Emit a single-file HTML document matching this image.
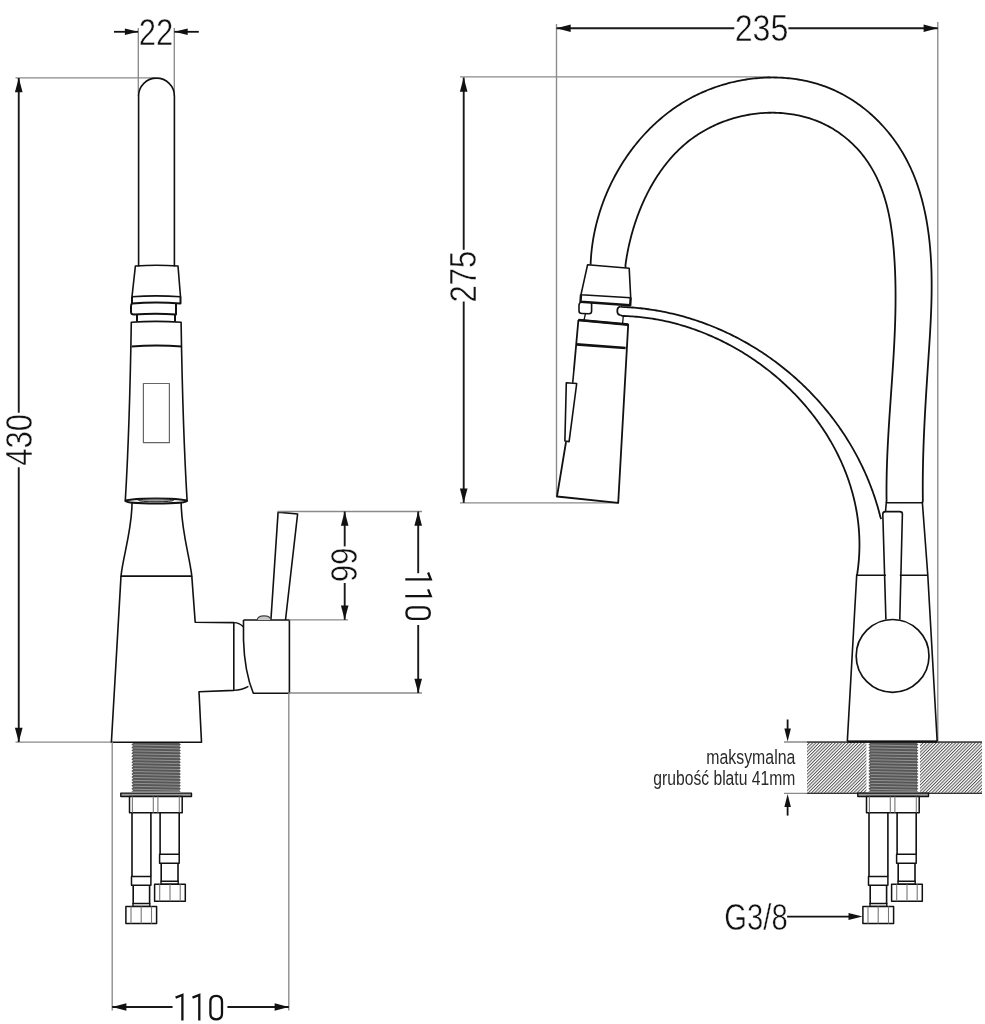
<!DOCTYPE html>
<html><head><meta charset="utf-8"><style>
html,body{margin:0;padding:0;background:#fff;}
svg{display:block;filter:grayscale(1);}
</style></head><body>
<svg width="985" height="1024" viewBox="0 0 985 1024" stroke-linecap="butt" stroke-linejoin="round">
<rect width="985" height="1024" fill="#fff"/>
<line x1="138.3" y1="28" x2="138.3" y2="96" stroke="#8a8a8a" stroke-width="1.35"/><line x1="174.3" y1="28" x2="174.3" y2="96" stroke="#8a8a8a" stroke-width="1.35"/><line x1="114" y1="31.8" x2="138" y2="31.8" stroke="#111" stroke-width="1.8"/><path d="M138.3,31.8 L124.9,35.1 L124.9,28.4 Z" fill="#111"/><line x1="174.3" y1="31.8" x2="198.8" y2="31.8" stroke="#111" stroke-width="1.8"/><path d="M174.3,31.8 L187.7,28.4 L187.7,35.1 Z" fill="#111"/><g transform="translate(156,31.9) rotate(0) scale(0.84,1)"><text x="0" y="13.04" font-family="Liberation Sans" font-size="37" text-anchor="middle" fill="#111" stroke="#fff" stroke-width="0.5">22</text></g><line x1="15.5" y1="77.9" x2="155" y2="77.9" stroke="#8a8a8a" stroke-width="1.35"/><line x1="15.5" y1="742.1" x2="112" y2="742.1" stroke="#8a8a8a" stroke-width="1.35"/><line x1="18.75" y1="78" x2="18.75" y2="412.8" stroke="#1a1a1a" stroke-width="1.9"/><line x1="18.75" y1="467.3" x2="18.75" y2="742" stroke="#1a1a1a" stroke-width="1.9"/><path d="M18.8,78.0 L22.6,92.2 L14.9,92.2 Z" fill="#111"/><path d="M18.8,742.0 L14.9,727.8 L22.6,727.8 Z" fill="#111"/><g transform="translate(18.5,439.8) rotate(-90) scale(0.84,1)"><text x="0" y="13.04" font-family="Liberation Sans" font-size="37" text-anchor="middle" fill="#111" stroke="#fff" stroke-width="0.5">430</text></g><path d="M138.6,266.5 V96 A17.9,17.9 0 0 1 174.4,96 V266.5" stroke="#111" stroke-width="1.6" fill="none" /><path d="M135.4,266 Q156.5,264.5 178,266 L180.5,296.7 Q156,295 132,296.7 Z" stroke="#111" stroke-width="1.6" fill="none" /><path d="M132,296.7 L132,303.4 Q156,301.5 180.5,303.4 L180.5,296.7" stroke="#111" stroke-width="2" fill="none" /><path d="M132,303.4 Q131,304 131,307 V312 Q131,314.5 134,314.4 Q156,313 176,314.4 L176,303.4" stroke="#111" stroke-width="2" fill="none" /><path d="M137,314.4 V321.7 M175,314.4 V321.7" stroke="#111" stroke-width="2" fill="none" /><path d="M131.3,322.3 Q156,320.5 181.1,322.3 Q182.8,430 187.1,500.5 Q156,497 125.3,500.5 Q129.6,430 131.3,322.3 Z" stroke="#111" stroke-width="1.6" fill="none" /><path d="M131.6,346.4 Q156,344.5 182,346.4" stroke="#111" stroke-width="2" fill="none" /><rect x="143.4" y="383.5" width="26" height="59.2" fill="none" stroke="#666" stroke-width="1.2"/><ellipse cx="156.2" cy="501" rx="30.9" ry="2.6" fill="#fff" stroke="#111" stroke-width="2"/><ellipse cx="156" cy="500.3" rx="17.5" ry="1.5" fill="#9a9a9a" stroke="#222" stroke-width="1"/><path d="M132,503 C132,530 123,556 121,576.1 L191.8,576.1 C189.5,556 181.2,530 181.2,503" stroke="#111" stroke-width="1.6" fill="none" /><path d="M121,576.1 L111.4,742.2 L201.5,742.2 L199,691.8 L233.8,690.4 V622.6 L195.2,622.2 L191.8,576.1" stroke="#111" stroke-width="1.6" fill="none" /><path d="M243.5,620 H289.4 V693.2 H253.3 Q244.5,672 243.5,640 V620" stroke="#111" stroke-width="1.6" fill="none" /><path d="M233.8,622.6 Q240,622.8 243.5,627" stroke="#111" stroke-width="1.4" fill="none" /><path d="M233.8,690.4 Q242,690 248.4,686.3" stroke="#111" stroke-width="1.4" fill="none" /><path d="M270.9,620 L278.1,512.1 L297.6,514 L285.5,620" stroke="#111" stroke-width="1.6" fill="none" /><path d="M257.2,620 Q257.5,615.8 264,615.8 Q270.6,615.8 270.9,620" stroke="#444" stroke-width="1.2" fill="#c8c8c8" /><line x1="278" y1="511.5" x2="422" y2="511.5" stroke="#8a8a8a" stroke-width="1.35"/><line x1="289" y1="619.8" x2="348" y2="619.8" stroke="#8a8a8a" stroke-width="1.35"/><line x1="289" y1="693" x2="422" y2="693" stroke="#8a8a8a" stroke-width="1.35"/><line x1="112.2" y1="742" x2="112.2" y2="1010.5" stroke="#8a8a8a" stroke-width="1.35"/><line x1="288.8" y1="693" x2="288.8" y2="1010.5" stroke="#8a8a8a" stroke-width="1.35"/><line x1="344.7" y1="511.5" x2="344.7" y2="546.4" stroke="#1a1a1a" stroke-width="1.9"/><line x1="344.7" y1="583" x2="344.7" y2="619.8" stroke="#1a1a1a" stroke-width="1.9"/><path d="M344.7,511.5 L348.5,525.7 L340.9,525.7 Z" fill="#111"/><path d="M344.7,619.8 L340.9,605.6 L348.5,605.6 Z" fill="#111"/><g transform="translate(344.4,564.7) rotate(90) scale(0.84,1)"><text x="0" y="13.04" font-family="Liberation Sans" font-size="37" text-anchor="middle" fill="#111" stroke="#fff" stroke-width="0.5">66</text></g><line x1="418.2" y1="511.5" x2="418.2" y2="573.2" stroke="#1a1a1a" stroke-width="1.9"/><line x1="418.2" y1="625" x2="418.2" y2="693" stroke="#1a1a1a" stroke-width="1.9"/><path d="M418.2,511.5 L422.0,525.7 L414.4,525.7 Z" fill="#111"/><path d="M418.2,693.0 L414.4,678.8 L422.0,678.8 Z" fill="#111"/><path transform="translate(418.1,596.7) rotate(90)" d="M-24.2,-10.0 L-17.4,-12.7 V12.8 M-7.3,-10.0 L-0.5,-12.7 V12.8 M10.6,-5.8 C10.6,-10.3 13.1,-11.7 16.4,-11.7 C19.7,-11.7 22.2,-10.3 22.2,-5.8 V5.8 C22.2,10.3 19.7,11.7 16.4,11.7 C13.1,11.7 10.6,10.3 10.6,5.8 Z" fill="none" stroke="#111" stroke-width="2.3" stroke-linejoin="miter" stroke-linecap="butt"/><line x1="112.2" y1="1007" x2="172.6" y2="1007" stroke="#1a1a1a" stroke-width="1.9"/><line x1="227.4" y1="1007" x2="288.8" y2="1007" stroke="#1a1a1a" stroke-width="1.9"/><path d="M112.2,1007.0 L126.4,1003.2 L126.4,1010.8 Z" fill="#111"/><path d="M288.8,1007.0 L274.6,1010.8 L274.6,1003.2 Z" fill="#111"/><path transform="translate(199.8,1007.6) rotate(0)" d="M-24.2,-10.0 L-17.4,-12.7 V12.8 M-7.3,-10.0 L-0.5,-12.7 V12.8 M10.6,-5.8 C10.6,-10.3 13.1,-11.7 16.4,-11.7 C19.7,-11.7 22.2,-10.3 22.2,-5.8 V5.8 C22.2,10.3 19.7,11.7 16.4,11.7 C13.1,11.7 10.6,10.3 10.6,5.8 Z" fill="none" stroke="#111" stroke-width="2.3" stroke-linejoin="miter" stroke-linecap="butt"/><polygon points="133.10,743.00 131.40,744.48 133.10,745.95 131.40,747.43 133.10,748.90 131.40,750.38 133.10,751.85 131.40,753.33 133.10,754.80 131.40,756.28 133.10,757.75 131.40,759.23 133.10,760.70 131.40,762.18 133.10,763.65 131.40,765.13 133.10,766.60 131.40,768.08 133.10,769.55 131.40,771.03 133.10,772.50 131.40,773.98 133.10,775.45 131.40,776.93 133.10,778.40 131.40,779.88 133.10,781.35 131.40,782.83 133.10,784.30 131.40,785.78 133.10,787.25 131.40,788.73 133.10,790.20 131.40,791.68 180.90,791.68 179.20,790.20 180.90,788.73 179.20,787.25 180.90,785.78 179.20,784.30 180.90,782.83 179.20,781.35 180.90,779.88 179.20,778.40 180.90,776.93 179.20,775.45 180.90,773.98 179.20,772.50 180.90,771.03 179.20,769.55 180.90,768.08 179.20,766.60 180.90,765.13 179.20,763.65 180.90,762.18 179.20,760.70 180.90,759.23 179.20,757.75 180.90,756.28 179.20,754.80 180.90,753.33 179.20,751.85 180.90,750.38 179.20,748.90 180.90,747.43 179.20,745.95 180.90,744.48 179.20,743.00" fill="#575757"/><line x1="133.4" y1="745.00" x2="178.9" y2="745.90" stroke="#9c9c9c" stroke-width="0.85"/><line x1="133.4" y1="747.95" x2="178.9" y2="748.85" stroke="#9c9c9c" stroke-width="0.85"/><line x1="133.4" y1="750.90" x2="178.9" y2="751.80" stroke="#9c9c9c" stroke-width="0.85"/><line x1="133.4" y1="753.85" x2="178.9" y2="754.75" stroke="#9c9c9c" stroke-width="0.85"/><line x1="133.4" y1="756.80" x2="178.9" y2="757.70" stroke="#9c9c9c" stroke-width="0.85"/><line x1="133.4" y1="759.75" x2="178.9" y2="760.65" stroke="#9c9c9c" stroke-width="0.85"/><line x1="133.4" y1="762.70" x2="178.9" y2="763.60" stroke="#9c9c9c" stroke-width="0.85"/><line x1="133.4" y1="765.65" x2="178.9" y2="766.55" stroke="#9c9c9c" stroke-width="0.85"/><line x1="133.4" y1="768.60" x2="178.9" y2="769.50" stroke="#9c9c9c" stroke-width="0.85"/><line x1="133.4" y1="771.55" x2="178.9" y2="772.45" stroke="#9c9c9c" stroke-width="0.85"/><line x1="133.4" y1="774.50" x2="178.9" y2="775.40" stroke="#9c9c9c" stroke-width="0.85"/><line x1="133.4" y1="777.45" x2="178.9" y2="778.35" stroke="#9c9c9c" stroke-width="0.85"/><line x1="133.4" y1="780.40" x2="178.9" y2="781.30" stroke="#9c9c9c" stroke-width="0.85"/><line x1="133.4" y1="783.35" x2="178.9" y2="784.25" stroke="#9c9c9c" stroke-width="0.85"/><line x1="133.4" y1="786.30" x2="178.9" y2="787.20" stroke="#9c9c9c" stroke-width="0.85"/><line x1="133.4" y1="789.25" x2="178.9" y2="790.15" stroke="#9c9c9c" stroke-width="0.85"/><rect x="120.8" y="793.1" width="70.7" height="3.4" fill="#9a9a9a" stroke="#111" stroke-width="1.4"/><rect x="129.5" y="796.5" width="52.7" height="16.3" fill="#fff" stroke="#111" stroke-width="1.5"/><line x1="132.4" y1="796.5" x2="132.4" y2="812.8" stroke="#777" stroke-width="1.1"/><line x1="153.3" y1="796.5" x2="153.3" y2="812.8" stroke="#777" stroke-width="1.1"/><line x1="157.9" y1="796.5" x2="157.9" y2="812.8" stroke="#777" stroke-width="1.1"/><line x1="179.3" y1="796.5" x2="179.3" y2="812.8" stroke="#777" stroke-width="1.1"/><path d="M132,812.8 V876.5 M150.9,812.8 V876.5" stroke="#111" stroke-width="1.6" fill="none" /><rect x="131.5" y="876.5" width="19.4" height="8.7" fill="#fff" stroke="#111" stroke-width="1.5"/><path d="M133.2,885.2 V904 M149.6,885.2 V904" stroke="#111" stroke-width="1.6" fill="none" /><rect x="133" y="903.5" width="16.8" height="3" fill="#fff" stroke="#111" stroke-width="1.4"/><rect x="125.9" y="906.4" width="30.7" height="17.2" fill="#fff" stroke="#111" stroke-width="1.5"/><line x1="131" y1="906.4" x2="131" y2="923.6" stroke="#777" stroke-width="1.1"/><line x1="141.2" y1="906.4" x2="141.2" y2="923.6" stroke="#777" stroke-width="1.1"/><line x1="151.5" y1="906.4" x2="151.5" y2="923.6" stroke="#777" stroke-width="1.1"/><path d="M160.1,812.8 V854.2 M179.2,812.8 V854.2" stroke="#111" stroke-width="1.6" fill="none" /><rect x="159.6" y="854.2" width="19.6" height="9" fill="#fff" stroke="#111" stroke-width="1.5"/><path d="M161.2,863.2 V881.5 M178,863.2 V881.5" stroke="#111" stroke-width="1.6" fill="none" /><rect x="161" y="881.2" width="17.2" height="3" fill="#fff" stroke="#111" stroke-width="1.4"/><rect x="154.6" y="884.2" width="30.7" height="17" fill="#fff" stroke="#111" stroke-width="1.5"/><line x1="159.7" y1="884.2" x2="159.7" y2="901.2" stroke="#777" stroke-width="1.1"/><line x1="170" y1="884.2" x2="170" y2="901.2" stroke="#777" stroke-width="1.1"/><line x1="180.2" y1="884.2" x2="180.2" y2="901.2" stroke="#777" stroke-width="1.1"/><line x1="556.5" y1="24" x2="556.5" y2="497" stroke="#8a8a8a" stroke-width="1.35"/><line x1="937.8" y1="22" x2="937.8" y2="742" stroke="#8a8a8a" stroke-width="1.35"/><line x1="556.5" y1="28.3" x2="734.3" y2="28.3" stroke="#1a1a1a" stroke-width="1.9"/><line x1="788.4" y1="28.3" x2="937.8" y2="28.3" stroke="#1a1a1a" stroke-width="1.9"/><path d="M556.5,28.3 L570.7,24.5 L570.7,32.1 Z" fill="#111"/><path d="M937.8,28.3 L923.6,32.1 L923.6,24.5 Z" fill="#111"/><g transform="translate(761.5,28.4) rotate(0) scale(0.87,1)"><text x="0" y="13.04" font-family="Liberation Sans" font-size="37" text-anchor="middle" fill="#111" stroke="#fff" stroke-width="0.5">235</text></g><line x1="460" y1="76.9" x2="770" y2="76.9" stroke="#8a8a8a" stroke-width="1.35"/><line x1="460" y1="502.9" x2="618" y2="502.9" stroke="#8a8a8a" stroke-width="1.35"/><line x1="463.7" y1="77.5" x2="463.7" y2="249.8" stroke="#1a1a1a" stroke-width="1.9"/><line x1="463.7" y1="301.5" x2="463.7" y2="502.8" stroke="#1a1a1a" stroke-width="1.9"/><path d="M463.7,77.5 L467.5,91.7 L459.9,91.7 Z" fill="#111"/><path d="M463.7,502.8 L459.9,488.6 L467.5,488.6 Z" fill="#111"/><g transform="translate(463.2,276.6) rotate(-90) scale(0.84,1)"><text x="0" y="13.04" font-family="Liberation Sans" font-size="37" text-anchor="middle" fill="#111" stroke="#fff" stroke-width="0.5">275</text></g><path d="M590.60,264.70 L590.70,262.49 L590.80,260.53 L590.92,258.57 L591.05,256.61 L591.21,254.65 L591.39,252.68 L591.59,250.72 L591.81,248.76 L592.05,246.80 L592.32,244.84 L592.60,242.88 L592.90,240.92 L593.22,238.96 L593.56,237.00 L593.93,235.05 L594.31,233.09 L594.71,231.14 L595.13,229.20 L595.58,227.25 L596.04,225.31 L596.52,223.37 L597.02,221.43 L597.54,219.50 L598.08,217.57 L598.63,215.64 L599.21,213.72 L599.81,211.80 L600.42,209.89 L601.06,207.98 L601.71,206.08 L602.38,204.19 L603.07,202.29 L603.78,200.41 L604.50,198.53 L605.25,196.66 L606.01,194.79 L606.79,192.93 L607.59,191.07 L608.41,189.23 L609.25,187.39 L610.10,185.56 L610.97,183.73 L611.86,181.92 L612.76,180.11 L613.69,178.31 L614.63,176.52 L615.59,174.74 L616.56,172.97 L617.56,171.21 L618.57,169.45 L619.59,167.71 L620.64,165.98 L621.70,164.25 L622.77,162.54 L623.87,160.84 L624.98,159.15 L626.11,157.47 L627.25,155.80 L628.41,154.14 L629.58,152.50 L630.78,150.86 L631.98,149.24 L633.21,147.63 L634.45,146.04 L635.71,144.46 L636.98,142.89 L638.26,141.33 L639.57,139.79 L640.89,138.26 L642.22,136.75 L643.57,135.25 L644.93,133.76 L646.31,132.29 L647.71,130.84 L649.12,129.39 L650.54,127.97 L651.98,126.56 L653.43,125.17 L654.90,123.79 L656.39,122.43 L657.88,121.08 L659.40,119.76 L660.92,118.45 L662.46,117.15 L664.02,115.88 L665.59,114.62 L667.17,113.38 L668.77,112.15 L670.38,110.95 L672.00,109.77 L673.64,108.60 L675.29,107.45 L676.96,106.32 L678.64,105.21 L680.33,104.13 L682.03,103.06 L683.75,102.01 L685.48,100.98 L687.23,99.97 L688.98,98.98 L690.75,98.02 L692.54,97.07 L694.33,96.15 L696.14,95.25 L697.96,94.37 L699.79,93.51 L701.63,92.67 L703.48,91.85 L705.34,91.06 L707.21,90.28 L709.09,89.53 L710.98,88.80 L712.88,88.10 L714.79,87.41 L716.70,86.75 L718.63,86.11 L720.56,85.49 L722.50,84.90 L724.44,84.32 L726.40,83.77 L728.36,83.24 L730.32,82.74 L732.29,82.25 L734.27,81.79 L736.25,81.36 L738.23,80.94 L740.22,80.55 L742.21,80.18 L744.21,79.83 L746.21,79.51 L748.21,79.21 L750.22,78.94 L752.22,78.69 L754.23,78.46 L756.24,78.25 L758.26,78.07 L760.27,77.91 L762.28,77.78 L764.30,77.67 L766.31,77.58 L768.32,77.52 L770.34,77.48 L772.35,77.47 L774.36,77.48 L776.36,77.51 L778.37,77.57 L780.37,77.65 L782.37,77.76 L784.37,77.89 L786.37,78.05 L788.36,78.23 L790.34,78.44 L792.33,78.67 L794.30,78.92 L796.27,79.20 L798.24,79.51 L800.20,79.84 L802.16,80.20 L804.10,80.58 L806.05,80.99 L807.98,81.42 L809.91,81.88 L811.83,82.36 L813.74,82.87 L815.64,83.40 L817.53,83.96 L819.42,84.55 L821.29,85.16 L823.16,85.80 L825.01,86.46 L826.86,87.15 L828.69,87.87 L830.51,88.61 L832.32,89.38 L834.12,90.18 L835.91,91.00 L837.69,91.85 L839.45,92.72 L841.20,93.62 L842.94,94.54 L844.66,95.48 L846.37,96.45 L848.07,97.45 L849.76,98.47 L851.43,99.51 L853.09,100.57 L854.73,101.66 L856.37,102.77 L857.98,103.90 L859.58,105.05 L861.17,106.23 L862.74,107.42 L864.30,108.64 L865.84,109.88 L867.37,111.14 L868.88,112.41 L870.37,113.71 L871.85,115.03 L873.31,116.37 L874.76,117.73 L876.19,119.10 L877.60,120.49 L879.00,121.91 L880.38,123.34 L881.74,124.78 L883.09,126.25 L884.41,127.73 L885.72,129.23 L887.01,130.74 L888.29,132.28 L889.54,133.82 L890.78,135.39 L891.99,136.97 L893.19,138.56 L894.37,140.17 L895.53,141.79 L896.67,143.43 L897.79,145.08 L898.89,146.74 L899.97,148.42 L901.03,150.11 L902.07,151.82 L903.09,153.53 L904.09,155.26 L905.06,157.00 L906.02,158.76 L906.96,160.52 L907.87,162.30 L908.76,164.08 L909.63,165.88 L910.48,167.68 L911.31,169.50 L912.12,171.33 L912.91,173.17 L913.68,175.01 L914.43,176.87 L915.16,178.73 L915.87,180.61 L916.56,182.49 L917.23,184.38 L917.88,186.27 L918.52,188.18 L919.14,190.09 L919.73,192.01 L920.32,193.94 L920.88,195.88 L921.43,197.82 L921.96,199.76 L922.47,201.72 L922.96,203.68 L923.44,205.64 L923.91,207.61 L924.35,209.59 L924.78,211.57 L925.20,213.55 L925.60,215.54 L925.99,217.53 L926.36,219.53 L926.71,221.53 L927.05,223.54 L927.38,225.54 L927.69,227.55 L927.99,229.57 L928.28,231.58 L928.55,233.60 L928.81,235.62 L929.05,237.64 L929.29,239.67 L929.51,241.69 L929.72,243.72 L929.91,245.74 L930.10,247.77 L930.27,249.80 L930.43,251.82 L930.59,253.85 L930.73,255.88 L930.85,257.90 L930.97,259.93 L931.08,261.96 L931.18,263.98 L931.27,266.01 L931.35,268.04 L931.42,270.06 L931.48,272.09 L931.53,274.11 L931.57,276.14 L931.60,278.16 L931.63,280.19 L931.65,282.21 L931.65,284.24 L931.66,286.26 L931.65,288.28 L931.64,290.31 L931.62,292.33 L931.59,294.35 L931.56,296.37 L931.52,298.40 L931.47,300.42 L931.42,302.44 L931.36,304.46 L931.30,306.48 L931.23,308.50 L931.15,310.51 L931.07,312.53 L930.99,314.55 L930.90,316.57 L930.81,318.58 L930.71,320.60 L930.61,322.61 L930.51,324.63 L930.40,326.64 L930.29,328.65 L930.18,330.66 L930.07,332.67 L929.95,334.68 L929.83,336.69 L929.70,338.70 L929.58,340.71 L929.45,342.72 L929.33,344.72 L929.20,346.73 L929.07,348.73 L928.94,350.74 L928.80,352.74 L928.67,354.74 L928.54,356.74 L928.41,358.74 L928.28,360.74 L928.15,362.74 L928.01,364.74 L927.88,366.73 L927.75,368.73 L927.62,370.72 L927.49,372.72 L927.36,374.71 L927.23,376.71 L927.10,378.70 L926.97,380.69 L926.85,382.68 L926.72,384.67 L926.59,386.66 L926.47,388.66 L926.34,390.65 L926.22,392.64 L926.10,394.62 L925.98,396.61 L925.86,398.60 L925.74,400.59 L925.62,402.58 L925.51,404.57 L925.39,406.56 L925.28,408.55 L925.17,410.54 L925.06,412.53 L924.95,414.52 L924.84,416.50 L924.74,418.49 L924.64,420.48 L924.54,422.47 L924.44,424.46 L924.34,426.45 L924.25,428.45 L924.16,430.44 L924.07,432.43 L923.98,434.42 L923.90,436.41 L923.81,438.41 L923.73,440.40 L923.66,442.40 L923.58,444.39 L923.51,446.39 L923.44,448.39 L923.38,450.38 L923.31,452.38 L923.25,454.38 L923.20,456.38 L923.14,458.38 L923.09,460.39 L923.04,462.39 L923.00,464.39 L922.96,466.40 L922.92,468.41 L922.89,470.41 L922.86,472.42 L922.83,474.43 L922.81,476.45 L922.79,478.46 L922.78,480.47 L922.76,482.49 L922.76,484.51 L922.75,486.52 L922.75,488.54 L922.76,490.57 L922.77,492.59 L922.78,494.61 L922.80,496.64 L922.82,498.67 L922.85,500.70 L922.40,502.80" stroke="#111" stroke-width="1.8" fill="none" /><path d="M625.60,267.80 L625.43,265.38 L625.68,263.51 L625.95,261.63 L626.24,259.74 L626.54,257.85 L626.86,255.95 L627.20,254.05 L627.56,252.14 L627.93,250.23 L628.32,248.31 L628.73,246.39 L629.15,244.47 L629.60,242.55 L630.06,240.62 L630.53,238.69 L631.03,236.77 L631.54,234.84 L632.08,232.91 L632.63,230.98 L633.19,229.05 L633.78,227.13 L634.38,225.20 L635.00,223.28 L635.64,221.36 L636.30,219.44 L636.97,217.53 L637.67,215.62 L638.38,213.72 L639.11,211.82 L639.86,209.93 L640.62,208.04 L641.41,206.16 L642.21,204.28 L643.04,202.41 L643.88,200.55 L644.74,198.70 L645.61,196.86 L646.51,195.03 L647.43,193.20 L648.36,191.39 L649.31,189.58 L650.29,187.79 L651.28,186.01 L652.29,184.24 L653.31,182.48 L654.36,180.73 L655.43,179.00 L656.52,177.28 L657.62,175.58 L658.75,173.89 L659.89,172.21 L661.05,170.56 L662.24,168.91 L663.44,167.28 L664.66,165.67 L665.90,164.08 L667.16,162.51 L668.44,160.95 L669.74,159.41 L671.06,157.89 L672.40,156.39 L673.76,154.91 L675.14,153.45 L676.53,152.01 L677.95,150.59 L679.39,149.20 L680.85,147.83 L682.33,146.48 L683.83,145.15 L685.35,143.84 L686.89,142.56 L688.44,141.31 L690.02,140.08 L691.62,138.87 L693.24,137.70 L694.88,136.54 L696.54,135.41 L698.22,134.31 L699.91,133.24 L701.62,132.19 L703.35,131.16 L705.10,130.17 L706.86,129.20 L708.63,128.25 L710.42,127.34 L712.23,126.45 L714.05,125.58 L715.88,124.75 L717.73,123.94 L719.59,123.15 L721.46,122.40 L723.34,121.67 L725.23,120.97 L727.14,120.30 L729.05,119.66 L730.97,119.04 L732.90,118.45 L734.84,117.89 L736.79,117.36 L738.75,116.85 L740.71,116.38 L742.68,115.93 L744.65,115.51 L746.63,115.12 L748.62,114.76 L750.61,114.43 L752.60,114.13 L754.60,113.86 L756.60,113.61 L758.60,113.40 L760.60,113.21 L762.61,113.06 L764.62,112.93 L766.62,112.83 L768.63,112.77 L770.64,112.73 L772.65,112.72 L774.65,112.75 L776.65,112.80 L778.65,112.89 L780.65,113.00 L782.64,113.15 L784.63,113.33 L786.62,113.54 L788.60,113.77 L790.57,114.05 L792.54,114.35 L794.50,114.68 L796.46,115.04 L798.41,115.44 L800.35,115.87 L802.28,116.33 L804.20,116.82 L806.11,117.34 L808.02,117.90 L809.91,118.48 L811.79,119.10 L813.66,119.76 L815.52,120.44 L817.36,121.16 L819.20,121.91 L821.02,122.69 L822.82,123.51 L824.61,124.36 L826.39,125.24 L828.15,126.15 L829.89,127.10 L831.62,128.09 L833.33,129.10 L835.03,130.15 L836.70,131.23 L838.36,132.34 L840.00,133.49 L841.61,134.66 L843.21,135.86 L844.79,137.10 L846.34,138.36 L847.87,139.65 L849.38,140.97 L850.87,142.31 L852.33,143.69 L853.77,145.09 L855.18,146.51 L856.57,147.96 L857.93,149.44 L859.26,150.94 L860.57,152.46 L861.85,154.01 L863.09,155.57 L864.32,157.16 L865.51,158.78 L866.67,160.41 L867.81,162.06 L868.92,163.73 L870.00,165.43 L871.05,167.13 L872.07,168.86 L873.07,170.60 L874.04,172.36 L874.98,174.13 L875.89,175.92 L876.78,177.72 L877.64,179.54 L878.47,181.36 L879.27,183.20 L880.05,185.05 L880.80,186.91 L881.52,188.78 L882.22,190.66 L882.89,192.55 L883.54,194.45 L884.16,196.36 L884.76,198.27 L885.33,200.20 L885.89,202.13 L886.42,204.06 L886.92,206.01 L887.41,207.96 L887.88,209.92 L888.32,211.88 L888.75,213.85 L889.16,215.82 L889.55,217.80 L889.92,219.79 L890.27,221.78 L890.61,223.77 L890.93,225.77 L891.24,227.77 L891.53,229.77 L891.80,231.78 L892.07,233.78 L892.32,235.80 L892.55,237.81 L892.78,239.82 L892.99,241.84 L893.19,243.85 L893.38,245.87 L893.57,247.89 L893.74,249.91 L893.90,251.92 L894.06,253.94 L894.20,255.96 L894.34,257.97 L894.47,259.99 L894.59,262.00 L894.71,264.02 L894.81,266.03 L894.91,268.04 L895.00,270.06 L895.09,272.07 L895.16,274.08 L895.23,276.09 L895.30,278.10 L895.35,280.11 L895.40,282.12 L895.44,284.13 L895.48,286.14 L895.51,288.15 L895.53,290.16 L895.55,292.17 L895.56,294.18 L895.56,296.19 L895.56,298.20 L895.56,300.20 L895.54,302.21 L895.53,304.22 L895.50,306.22 L895.47,308.23 L895.44,310.24 L895.40,312.24 L895.36,314.25 L895.31,316.25 L895.26,318.26 L895.20,320.26 L895.14,322.27 L895.07,324.27 L895.00,326.27 L894.93,328.28 L894.85,330.28 L894.77,332.29 L894.68,334.29 L894.60,336.29 L894.50,338.30 L894.41,340.30 L894.31,342.30 L894.21,344.30 L894.10,346.31 L893.99,348.31 L893.88,350.31 L893.77,352.31 L893.65,354.32 L893.54,356.32 L893.42,358.32 L893.29,360.32 L893.17,362.33 L893.04,364.33 L892.91,366.33 L892.78,368.33 L892.65,370.33 L892.52,372.33 L892.39,374.34 L892.25,376.34 L892.12,378.34 L891.98,380.34 L891.84,382.34 L891.70,384.35 L891.56,386.35 L891.42,388.35 L891.28,390.35 L891.14,392.36 L891.00,394.36 L890.86,396.36 L890.72,398.36 L890.58,400.37 L890.44,402.37 L890.30,404.37 L890.17,406.37 L890.03,408.38 L889.89,410.38 L889.76,412.38 L889.62,414.39 L889.49,416.39 L889.36,418.40 L889.23,420.40 L889.10,422.40 L888.97,424.41 L888.84,426.41 L888.72,428.42 L888.60,430.42 L888.48,432.43 L888.36,434.44 L888.25,436.44 L888.13,438.45 L888.03,440.45 L887.92,442.46 L887.81,444.47 L887.71,446.48 L887.62,448.48 L887.52,450.49 L887.43,452.50 L887.34,454.51 L887.26,456.52 L887.18,458.53 L887.10,460.54 L887.03,462.55 L886.96,464.56 L886.90,466.57 L886.84,468.58 L886.78,470.59 L886.73,472.60 L886.69,474.62 L886.64,476.63 L886.61,478.64 L886.58,480.66 L886.55,482.67 L886.53,484.69 L886.51,486.70 L886.50,488.72 L886.50,490.73 L886.50,492.75 L886.51,494.77 L886.52,496.78 L886.54,498.80 L886.57,500.82 L886.30,502.80" stroke="#111" stroke-width="1.8" fill="none" /><path d="M587.6,264.7 L629.2,268.3 L630.7,297.7 L581,294.7 Z" stroke="#111" stroke-width="1.6" fill="none" /><path d="M581,294.7 L580.5,301.8 L630.2,305.3 L630.7,297.7" stroke="#111" stroke-width="2.4" fill="none" /><path d="M580.5,302.8 Q579,303 579,306 V311 Q579,313.5 582,313.5 L589,313.7 Q591.6,313.7 591.6,311 V303" stroke="#111" stroke-width="1.6" fill="none" /><path d="M620.3,306.6 Q617.3,307 617.3,310.8 Q617.3,315 620.3,315" stroke="#111" stroke-width="1.8" fill="none" /><path d="M585.5,313.5 L584,320 M623.3,316 L622.6,323.6" stroke="#111" stroke-width="1.3" fill="none" /><path d="M620.30,306.60 L622.10,306.94 L624.15,307.03 L626.19,307.13 L628.24,307.24 L630.28,307.37 L632.31,307.52 L634.35,307.68 L636.38,307.86 L638.41,308.06 L640.44,308.27 L642.46,308.49 L644.48,308.73 L646.50,308.99 L648.51,309.26 L650.52,309.55 L652.53,309.85 L654.53,310.17 L656.53,310.50 L658.53,310.85 L660.52,311.22 L662.51,311.59 L664.50,311.99 L666.48,312.40 L668.46,312.82 L670.43,313.26 L672.40,313.71 L674.36,314.18 L676.32,314.66 L678.28,315.15 L680.23,315.66 L682.18,316.19 L684.12,316.73 L686.06,317.28 L688.00,317.85 L689.92,318.43 L691.85,319.03 L693.77,319.64 L695.68,320.26 L697.59,320.90 L699.50,321.55 L701.40,322.21 L703.29,322.89 L705.18,323.59 L707.06,324.29 L708.94,325.01 L710.81,325.74 L712.68,326.49 L714.54,327.25 L716.39,328.03 L718.24,328.81 L720.08,329.61 L721.92,330.42 L723.75,331.25 L725.58,332.09 L727.39,332.94 L729.21,333.81 L731.01,334.68 L732.81,335.58 L734.60,336.48 L736.39,337.39 L738.17,338.32 L739.94,339.26 L741.71,340.22 L743.47,341.18 L745.22,342.16 L746.97,343.15 L748.70,344.15 L750.44,345.17 L752.16,346.20 L753.88,347.24 L755.59,348.29 L757.29,349.35 L758.98,350.42 L760.67,351.51 L762.35,352.61 L764.02,353.72 L765.68,354.84 L767.34,355.97 L768.98,357.12 L770.62,358.28 L772.25,359.44 L773.88,360.62 L775.49,361.81 L777.10,363.01 L778.70,364.23 L780.29,365.45 L781.87,366.69 L783.44,367.93 L785.00,369.19 L786.56,370.46 L788.10,371.73 L789.64,373.02 L791.17,374.32 L792.69,375.63 L794.20,376.95 L795.70,378.28 L797.19,379.63 L798.67,380.98 L800.15,382.34 L801.61,383.71 L803.06,385.10 L804.51,386.49 L805.94,387.89 L807.37,389.31 L808.78,390.73 L810.19,392.16 L811.58,393.60 L812.96,395.06 L814.34,396.52 L815.70,397.99 L817.06,399.47 L818.40,400.96 L819.73,402.46 L821.06,403.97 L822.37,405.49 L823.67,407.02 L824.96,408.56 L826.24,410.11 L827.51,411.66 L828.77,413.23 L830.01,414.80 L831.25,416.39 L832.48,417.98 L833.69,419.58 L834.89,421.19 L836.08,422.81 L837.26,424.43 L838.43,426.07 L839.59,427.71 L840.73,429.37 L841.86,431.03 L842.98,432.70 L844.09,434.37 L845.19,436.06 L846.27,437.75 L847.35,439.45 L848.41,441.16 L849.46,442.88 L850.49,444.61 L851.52,446.34 L852.53,448.08 L853.53,449.83 L854.51,451.59 L855.49,453.35 L856.45,455.13 L857.39,456.91 L858.33,458.69 L859.25,460.49 L860.16,462.29 L861.05,464.10 L861.94,465.92 L862.81,467.74 L863.66,469.57 L864.50,471.41 L865.33,473.25 L866.15,475.10 L866.95,476.96 L867.74,478.83 L868.51,480.70 L869.27,482.58 L870.02,484.46 L870.75,486.35 L871.47,488.25 L872.17,490.15 L872.86,492.06 L873.54,493.98 L874.20,495.90 L874.85,497.83 L875.48,499.77 L876.09,501.71 L876.70,503.66 L877.29,505.61 L877.86,507.57 L878.42,509.54 L878.96,511.51 L879.49,513.49 L880.00,515.47 L880.50,517.46 L881.30,519.00" stroke="#111" stroke-width="1.8" fill="none" /><path d="M620.30,315.00 L622.41,315.97 L624.41,316.02 L626.41,316.09 L628.41,316.18 L630.41,316.29 L632.40,316.42 L634.40,316.56 L636.40,316.73 L638.39,316.91 L640.38,317.11 L642.37,317.32 L644.36,317.56 L646.35,317.81 L648.33,318.08 L650.32,318.37 L652.30,318.68 L654.27,319.00 L656.25,319.34 L658.22,319.70 L660.20,320.07 L662.16,320.46 L664.13,320.87 L666.09,321.30 L668.05,321.74 L670.01,322.20 L671.96,322.68 L673.91,323.17 L675.85,323.68 L677.79,324.21 L679.73,324.75 L681.67,325.31 L683.60,325.89 L685.52,326.48 L687.44,327.09 L689.36,327.71 L691.27,328.35 L693.18,329.01 L695.08,329.68 L696.98,330.36 L698.87,331.06 L700.76,331.78 L702.64,332.52 L704.52,333.26 L706.39,334.03 L708.26,334.81 L710.12,335.60 L711.98,336.41 L713.82,337.23 L715.67,338.07 L717.50,338.92 L719.33,339.79 L721.16,340.67 L722.97,341.57 L724.78,342.48 L726.59,343.40 L728.39,344.34 L730.18,345.29 L731.96,346.26 L733.73,347.24 L735.50,348.24 L737.26,349.24 L739.02,350.27 L740.76,351.30 L742.50,352.35 L744.23,353.41 L745.95,354.49 L747.66,355.58 L749.37,356.68 L751.06,357.80 L752.75,358.92 L754.43,360.07 L756.10,361.22 L757.76,362.39 L759.42,363.57 L761.06,364.76 L762.69,365.96 L764.32,367.18 L765.93,368.41 L767.54,369.65 L769.14,370.90 L770.72,372.17 L772.30,373.45 L773.87,374.73 L775.42,376.04 L776.97,377.35 L778.50,378.67 L780.03,380.01 L781.54,381.36 L783.04,382.71 L784.54,384.08 L786.02,385.47 L787.49,386.86 L788.95,388.26 L790.40,389.67 L791.83,391.10 L793.26,392.54 L794.67,393.98 L796.07,395.44 L797.46,396.91 L798.84,398.38 L800.20,399.87 L801.55,401.37 L802.89,402.88 L804.22,404.40 L805.54,405.93 L806.84,407.47 L808.13,409.01 L809.40,410.57 L810.67,412.14 L811.92,413.72 L813.15,415.31 L814.38,416.90 L815.59,418.51 L816.78,420.12 L817.96,421.75 L819.13,423.38 L820.28,425.02 L821.42,426.67 L822.55,428.33 L823.66,430.00 L824.76,431.68 L825.84,433.36 L826.90,435.06 L827.96,436.76 L828.99,438.47 L830.01,440.19 L831.02,441.92 L832.01,443.65 L832.99,445.40 L833.95,447.15 L834.89,448.91 L835.82,450.67 L836.73,452.45 L837.63,454.23 L838.51,456.02 L839.37,457.81 L840.22,459.62 L841.05,461.43 L841.87,463.25 L842.66,465.07 L843.45,466.90 L844.21,468.74 L844.96,470.59 L845.68,472.44 L846.40,474.30 L847.09,476.16 L847.77,478.03 L848.43,479.91 L849.07,481.80 L849.69,483.69 L850.30,485.58 L850.88,487.49 L851.45,489.39 L852.00,491.31 L852.53,493.23 L853.05,495.15 L853.54,497.09 L854.02,499.02 L854.47,500.96 L854.91,502.91 L855.33,504.86 L855.73,506.82 L856.10,508.78 L856.46,510.75 L856.80,512.72 L857.12,514.70 L857.42,516.68 L857.70,518.67 L857.96,520.66 L858.20,522.66 L858.42,524.66 L858.62,526.66 L858.80,528.67 L858.95,530.68 L859.09,532.70 L859.20,534.72 L859.30,536.75 L859.37,538.77 L859.42,540.81 L859.45,542.84 L859.46,544.88 L859.45,546.92 L859.41,548.97 L859.35,551.02 L859.27,553.07 L859.17,555.13 L859.05,557.19 L858.90,559.25 L858.73,561.31 L858.54,563.38 L858.33,565.45 L858.09,567.52 L857.83,569.60 L857.54,571.67 L857.24,573.75 L856.70,575.30" stroke="#111" stroke-width="1.8" fill="none" /><path d="M578.4,320 L628.2,324.6 L618.2,502.9 L557,496.5 L566,442 M573.9,370 L578.4,320" stroke="#111" stroke-width="1.8" fill="none" /><path d="M578.4,320 L628.2,324.6" stroke="#111" stroke-width="2.6" fill="none" /><path d="M576.4,344.4 L625.6,348" stroke="#111" stroke-width="2.6" fill="none" /><path d="M573.9,370 L572.7,382.8" stroke="#111" stroke-width="1.6" fill="none" /><path d="M566.3,382.8 L576.7,383.5 L569.1,441.6 L564.9,441 Z" stroke="#111" stroke-width="1.6" fill="none" /><path d="M885.5,511.6 L886.3,502.8 H922.4 L927.8,575.3 L937.2,741.6 H847.3 L856.7,575.3 H885.9 M899.8,575.3 H927.8" stroke="#111" stroke-width="1.6" fill="none" /><path d="M885.9,619.5 L882.8,514 Q882.8,511.6 885.5,511.6 H899.8 Q902.4,511.6 902.4,514 L899.8,619.5" stroke="#111" stroke-width="1.6" fill="none" /><circle cx="892.6" cy="655.9" r="36.4" fill="#fff" stroke="#111" stroke-width="1.7"/><defs><pattern id="h" patternUnits="userSpaceOnUse" width="2.3" height="2.3" patternTransform="rotate(45)"><rect width="2.3" height="2.3" fill="#fff"/><rect width="1.0" height="2.3" fill="#555"/></pattern></defs><rect x="807" y="742" width="59.4" height="51.3" fill="url(#h)"/><rect x="920" y="742" width="62" height="51.3" fill="url(#h)"/><line x1="784" y1="742" x2="982" y2="742" stroke="#8a8a8a" stroke-width="1.35"/><line x1="784" y1="793.4" x2="982" y2="793.4" stroke="#8a8a8a" stroke-width="1.35"/><line x1="807" y1="742.1" x2="982" y2="742.1" stroke="#333" stroke-width="1.3"/><line x1="807" y1="793.3" x2="982" y2="793.3" stroke="#333" stroke-width="1.3"/><polygon points="870.10,743.00 868.40,744.48 870.10,745.95 868.40,747.43 870.10,748.90 868.40,750.38 870.10,751.85 868.40,753.33 870.10,754.80 868.40,756.28 870.10,757.75 868.40,759.23 870.10,760.70 868.40,762.18 870.10,763.65 868.40,765.13 870.10,766.60 868.40,768.08 870.10,769.55 868.40,771.03 870.10,772.50 868.40,773.98 870.10,775.45 868.40,776.93 870.10,778.40 868.40,779.88 870.10,781.35 868.40,782.83 870.10,784.30 868.40,785.78 870.10,787.25 868.40,788.73 870.10,790.20 868.40,791.68 918.40,791.68 916.70,790.20 918.40,788.73 916.70,787.25 918.40,785.78 916.70,784.30 918.40,782.83 916.70,781.35 918.40,779.88 916.70,778.40 918.40,776.93 916.70,775.45 918.40,773.98 916.70,772.50 918.40,771.03 916.70,769.55 918.40,768.08 916.70,766.60 918.40,765.13 916.70,763.65 918.40,762.18 916.70,760.70 918.40,759.23 916.70,757.75 918.40,756.28 916.70,754.80 918.40,753.33 916.70,751.85 918.40,750.38 916.70,748.90 918.40,747.43 916.70,745.95 918.40,744.48 916.70,743.00" fill="#575757"/><line x1="870.4" y1="745.00" x2="916.4" y2="745.90" stroke="#9c9c9c" stroke-width="0.85"/><line x1="870.4" y1="747.95" x2="916.4" y2="748.85" stroke="#9c9c9c" stroke-width="0.85"/><line x1="870.4" y1="750.90" x2="916.4" y2="751.80" stroke="#9c9c9c" stroke-width="0.85"/><line x1="870.4" y1="753.85" x2="916.4" y2="754.75" stroke="#9c9c9c" stroke-width="0.85"/><line x1="870.4" y1="756.80" x2="916.4" y2="757.70" stroke="#9c9c9c" stroke-width="0.85"/><line x1="870.4" y1="759.75" x2="916.4" y2="760.65" stroke="#9c9c9c" stroke-width="0.85"/><line x1="870.4" y1="762.70" x2="916.4" y2="763.60" stroke="#9c9c9c" stroke-width="0.85"/><line x1="870.4" y1="765.65" x2="916.4" y2="766.55" stroke="#9c9c9c" stroke-width="0.85"/><line x1="870.4" y1="768.60" x2="916.4" y2="769.50" stroke="#9c9c9c" stroke-width="0.85"/><line x1="870.4" y1="771.55" x2="916.4" y2="772.45" stroke="#9c9c9c" stroke-width="0.85"/><line x1="870.4" y1="774.50" x2="916.4" y2="775.40" stroke="#9c9c9c" stroke-width="0.85"/><line x1="870.4" y1="777.45" x2="916.4" y2="778.35" stroke="#9c9c9c" stroke-width="0.85"/><line x1="870.4" y1="780.40" x2="916.4" y2="781.30" stroke="#9c9c9c" stroke-width="0.85"/><line x1="870.4" y1="783.35" x2="916.4" y2="784.25" stroke="#9c9c9c" stroke-width="0.85"/><line x1="870.4" y1="786.30" x2="916.4" y2="787.20" stroke="#9c9c9c" stroke-width="0.85"/><line x1="870.4" y1="789.25" x2="916.4" y2="790.15" stroke="#9c9c9c" stroke-width="0.85"/><path d="M847.3,741.6 H937.2" stroke="#111" stroke-width="2.2" fill="none" /><rect x="857.8" y="793.1" width="70.7" height="3.4" fill="#9a9a9a" stroke="#111" stroke-width="1.4"/><rect x="866.5" y="796.5" width="52.7" height="16.3" fill="#fff" stroke="#111" stroke-width="1.5"/><line x1="869.4" y1="796.5" x2="869.4" y2="812.8" stroke="#777" stroke-width="1.1"/><line x1="890.3" y1="796.5" x2="890.3" y2="812.8" stroke="#777" stroke-width="1.1"/><line x1="894.9" y1="796.5" x2="894.9" y2="812.8" stroke="#777" stroke-width="1.1"/><line x1="916.3" y1="796.5" x2="916.3" y2="812.8" stroke="#777" stroke-width="1.1"/><path d="M869,812.8 V876.5 M887.9,812.8 V876.5" stroke="#111" stroke-width="1.6" fill="none" /><rect x="868.5" y="876.5" width="19.4" height="8.7" fill="#fff" stroke="#111" stroke-width="1.5"/><path d="M870.2,885.2 V904 M886.6,885.2 V904" stroke="#111" stroke-width="1.6" fill="none" /><rect x="870" y="903.5" width="16.8" height="3" fill="#fff" stroke="#111" stroke-width="1.4"/><rect x="862.9" y="906.4" width="30.7" height="17.2" fill="#fff" stroke="#111" stroke-width="1.5"/><line x1="868" y1="906.4" x2="868" y2="923.6" stroke="#777" stroke-width="1.1"/><line x1="878.2" y1="906.4" x2="878.2" y2="923.6" stroke="#777" stroke-width="1.1"/><line x1="888.5" y1="906.4" x2="888.5" y2="923.6" stroke="#777" stroke-width="1.1"/><path d="M897.1,812.8 V854.2 M916.2,812.8 V854.2" stroke="#111" stroke-width="1.6" fill="none" /><rect x="896.6" y="854.2" width="19.6" height="9" fill="#fff" stroke="#111" stroke-width="1.5"/><path d="M898.2,863.2 V881.5 M915,863.2 V881.5" stroke="#111" stroke-width="1.6" fill="none" /><rect x="898" y="881.2" width="17.2" height="3" fill="#fff" stroke="#111" stroke-width="1.4"/><rect x="891.6" y="884.2" width="30.7" height="17" fill="#fff" stroke="#111" stroke-width="1.5"/><line x1="896.7" y1="884.2" x2="896.7" y2="901.2" stroke="#777" stroke-width="1.1"/><line x1="907" y1="884.2" x2="907" y2="901.2" stroke="#777" stroke-width="1.1"/><line x1="917.2" y1="884.2" x2="917.2" y2="901.2" stroke="#777" stroke-width="1.1"/><line x1="787.6" y1="719.5" x2="787.6" y2="730" stroke="#111" stroke-width="1.8"/><path d="M787.6,741.5 L784.4,728.5 L790.9,728.5 Z" fill="#111"/><line x1="787.6" y1="805" x2="787.6" y2="815.6" stroke="#111" stroke-width="1.8"/><path d="M787.6,794.0 L790.9,807.0 L784.4,807.0 Z" fill="#111"/><text x="795.3" y="764.4" font-family="Liberation Sans" font-size="20.5" text-anchor="end" fill="#2a2a2a" textLength="89" lengthAdjust="spacingAndGlyphs">maksymalna</text><text x="795.3" y="785.1" font-family="Liberation Sans" font-size="20" text-anchor="end" fill="#2a2a2a" textLength="142" lengthAdjust="spacingAndGlyphs">grubość blatu 41mm</text><line x1="787.1" y1="916.6" x2="850" y2="916.6" stroke="#111" stroke-width="1.8"/><path d="M862.5,916.6 L848.5,920.1 L848.5,913.1 Z" fill="#111"/><g transform="translate(756,917.4) rotate(0) scale(0.79,1)"><text x="0" y="13.04" font-family="Liberation Sans" font-size="37" text-anchor="middle" fill="#111" stroke="#fff" stroke-width="0.5">G3/8</text></g>
</svg></body></html>
